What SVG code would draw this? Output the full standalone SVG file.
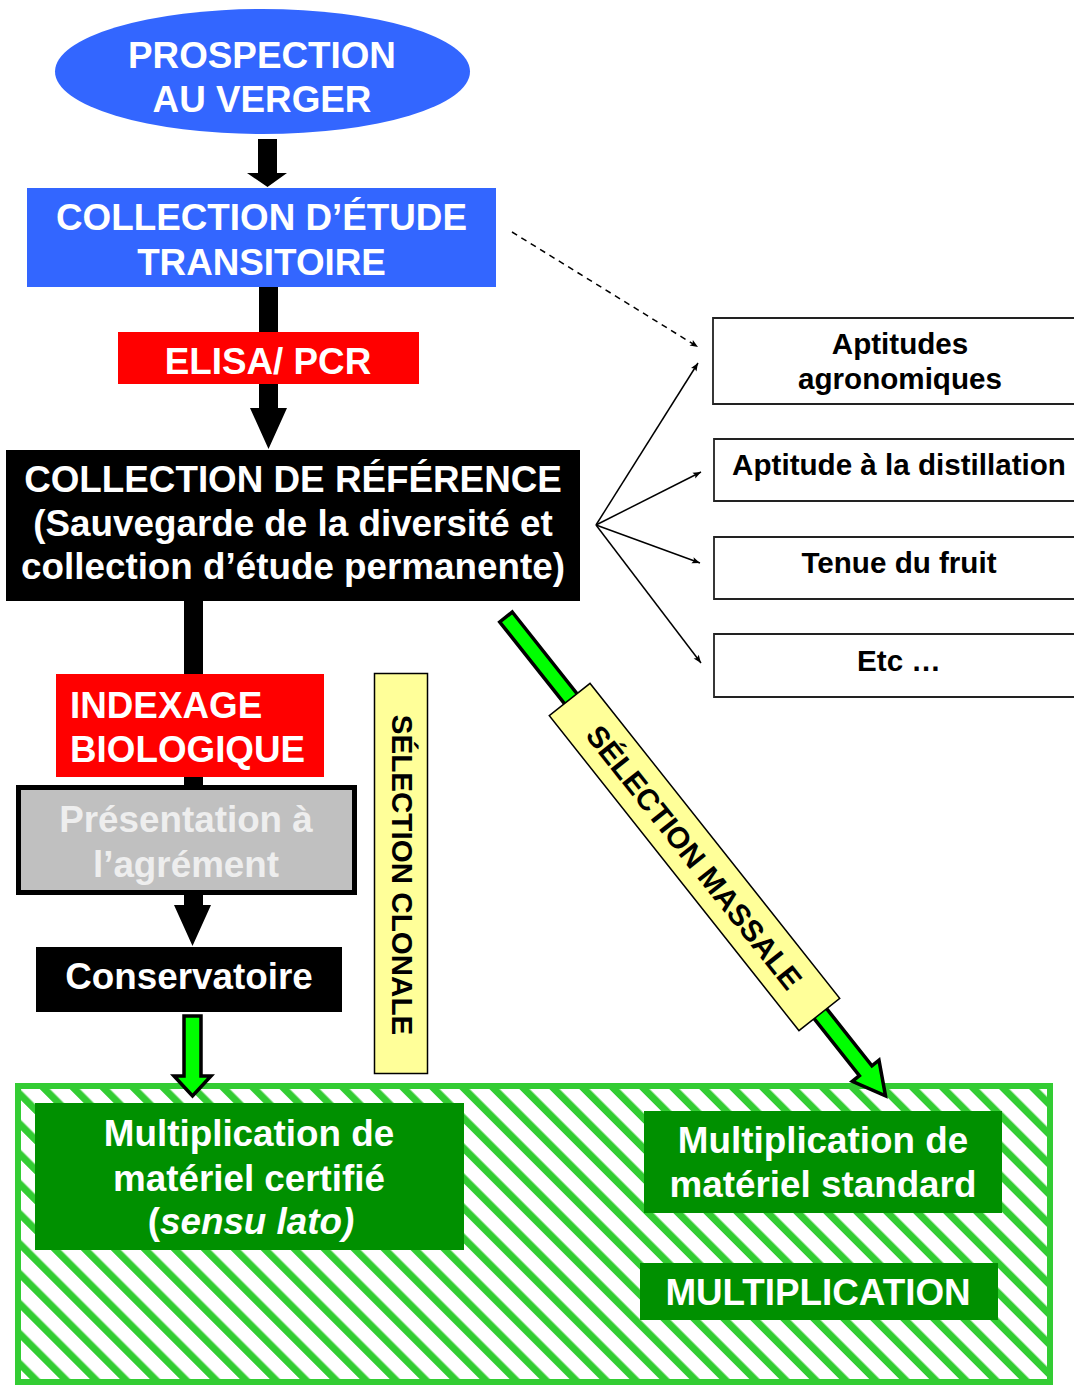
<svg xmlns="http://www.w3.org/2000/svg" width="1074" height="1385" viewBox="0 0 1074 1385">
<style>
  text { font-family: "Liberation Sans", Arial, sans-serif; font-weight: bold; }
  .w36 { fill: #ffffff; font-size: 36.8px; text-anchor: middle; }
  .k29 { fill: #000000; font-size: 29.6px; text-anchor: middle; }
  .k30 { fill: #000000; font-size: 30px; text-anchor: middle; }
  .blue { fill: #3366FF; }
  .red { fill: #FF0000; }
  .blk { fill: #000000; }
  .dg { fill: #009000; }
  .yel { fill: #FFFF99; stroke: #000000; stroke-width: 1.5; }
  .crit { fill: #ffffff; stroke: #222222; stroke-width: 1.8; }
  .thin { fill: none; stroke: #000000; stroke-width: 1.5; marker-end: url(#ah); }
  .garrow { fill: #00FF00; stroke: #000000; stroke-width: 3.5; stroke-linejoin: miter; }
</style>
<defs>
  <marker id="ah" markerUnits="userSpaceOnUse" viewBox="0 0 10 10" refX="10" refY="5" markerWidth="10" markerHeight="8" orient="auto">
    <path d="M0,1 L10,5 L0,9 L2,5 z" fill="#000000"/>
  </marker>
  <pattern id="hatch" patternUnits="userSpaceOnUse" width="21.2" height="21.2" patternTransform="rotate(-45)">
    <rect x="0" y="0" width="21.2" height="21.2" fill="#ffffff"/>
    <rect x="0" y="0" width="7.2" height="21.2" fill="#33CC33"/>
  </pattern>
</defs>
<rect x="0" y="0" width="1074" height="1385" fill="#ffffff"/>

<g id="zone-multiplication">
  <rect x="18" y="1086" width="1032" height="296" fill="url(#hatch)" stroke="#33CC33" stroke-width="6"/>
</g>

<g id="connectors">
  <polygon class="blk" points="258,139 277,139 277,173 287,173 267.5,187 247,173 258,173"/>
  <polygon class="blk" points="259,287 278,287 278,408 287,408 268.5,449 250,408 259,408"/>
  <rect class="blk" x="184" y="600" width="19" height="190"/>
  <polygon class="blk" points="184,893 203,893 203,905 211,905 192.5,946 174,905 184,905"/>
  <line x1="512" y1="232" x2="698" y2="347" stroke="#000000" stroke-width="1.5" stroke-dasharray="6,5" marker-end="url(#ah)"/>
  <line class="thin" x1="596" y1="525" x2="698" y2="363"/>
  <line class="thin" x1="596" y1="525" x2="701" y2="472"/>
  <line class="thin" x1="596" y1="525" x2="700" y2="563"/>
  <line class="thin" x1="596" y1="525" x2="701" y2="663"/>
  <polygon class="garrow" points="184,1016 201,1016 201,1076 211,1076 192.5,1096 174,1076 184,1076"/>
  <polygon class="garrow" transform="translate(506,617) rotate(51.6)" points="0,-8 579,-8 579,-17 611,0 579,17 579,8 0,8"/>
</g>

<g id="prospection">
  <ellipse class="blue" cx="262.5" cy="71.5" rx="207.5" ry="62.5"/>
  <text class="w36" x="262" y="68">PROSPECTION</text>
  <text class="w36" x="262" y="112">AU VERGER</text>
</g>

<g id="collection-etude">
  <rect class="blue" x="27" y="188" width="469" height="99"/>
  <text class="w36" x="261.5" y="230">COLLECTION D’ÉTUDE</text>
  <text class="w36" x="261.5" y="275">TRANSITOIRE</text>
</g>

<g id="elisa">
  <rect class="red" x="118" y="332" width="301" height="52"/>
  <text class="w36" x="268" y="374">ELISA/ PCR</text>
</g>

<g id="collection-reference">
  <rect class="blk" x="6" y="450" width="574" height="151"/>
  <text class="w36" x="293" y="492">COLLECTION DE RÉFÉRENCE</text>
  <text class="w36" x="293" y="536">(Sauvegarde de la diversité et</text>
  <text class="w36" x="293" y="579">collection d’étude permanente)</text>
</g>

<g id="aptitudes-agronomiques">
  <path class="crit" d="M1075,318 H713 V404 H1075"/>
  <text class="k29" x="900" y="354">Aptitudes</text>
  <text class="k29" x="900" y="389">agronomiques</text>
</g>
<g id="aptitude-distillation">
  <path class="crit" d="M1075,439 H714 V501 H1075"/>
  <text class="k29" x="899" y="475">Aptitude à la distillation</text>
</g>
<g id="tenue-fruit">
  <path class="crit" d="M1075,537 H714 V599 H1075"/>
  <text class="k29" x="899" y="573">Tenue du fruit</text>
</g>
<g id="etc">
  <path class="crit" d="M1075,634 H714 V697 H1075"/>
  <text class="k29" x="899" y="671">Etc …</text>
</g>

<g id="indexage">
  <rect class="red" x="56" y="674" width="268" height="103"/>
  <text class="w36" x="70" y="718" style="text-anchor:start">INDEXAGE</text>
  <text class="w36" x="70" y="762" style="text-anchor:start">BIOLOGIQUE</text>
</g>

<g id="agrement">
  <rect x="18.5" y="787.5" width="336" height="105" fill="#C0C0C0" stroke="#000000" stroke-width="5"/>
  <text class="w36" x="186" y="832" style="fill:#EEEEEE">Présentation à</text>
  <text class="w36" x="186" y="877" style="fill:#EEEEEE">l’agrément</text>
</g>

<g id="conservatoire">
  <rect class="blk" x="36" y="947" width="306" height="65"/>
  <text class="w36" x="189" y="989">Conservatoire</text>
</g>

<g id="selection-clonale">
  <rect class="yel" x="374.5" y="673.5" width="53" height="400"/>
  <text class="k29" transform="translate(392,875) rotate(90)" x="0" y="0">SÉLECTION CLONALE</text>
</g>

<g id="selection-massale">
  <g transform="translate(694.5,857) rotate(51.6)">
    <rect class="yel" x="-201" y="-26" width="402" height="52"/>
    <text class="k30" x="0" y="11">SÉLECTION MASSALE</text>
  </g>
</g>

<g id="materiel-certifie">
  <rect class="dg" x="35" y="1103" width="429" height="147"/>
  <text class="w36" x="249" y="1146">Multiplication de</text>
  <text class="w36" x="249" y="1191">matériel certifié</text>
  <text class="w36" x="251" y="1234">(<tspan font-style="italic">sensu lato)</tspan></text>
</g>

<g id="materiel-standard">
  <rect class="dg" x="644" y="1111" width="358" height="102"/>
  <text class="w36" x="823" y="1153">Multiplication de</text>
  <text class="w36" x="823" y="1197">matériel standard</text>
</g>

<g id="multiplication">
  <rect class="dg" x="640" y="1263" width="358" height="57"/>
  <text class="w36" x="818" y="1305">MULTIPLICATION</text>
</g>
</svg>
